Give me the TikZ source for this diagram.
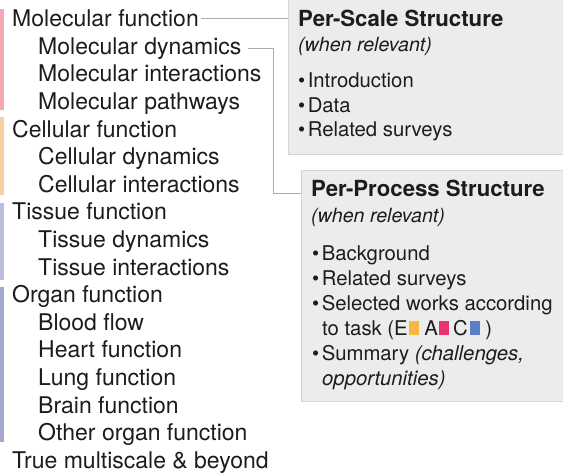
\documentclass[tikz,border=0pt]{standalone}
\usepackage{fontspec}
\setmainfont{TeX Gyre Heros}
\definecolor{ink}{HTML}{1C1C1C}
\definecolor{barred}{HTML}{F4A9B0}
\definecolor{barorange}{HTML}{F6D0A0}
\definecolor{barlav}{HTML}{B9BCDD}
\definecolor{barlavdark}{HTML}{A5A8CE}
\definecolor{panelfill}{HTML}{ECECEC}
\definecolor{panelline}{HTML}{D4D4D4}
\definecolor{connline}{HTML}{ADADAD}
\definecolor{sqyel}{HTML}{F5B942}
\definecolor{sqmag}{HTML}{E8336D}
\definecolor{sqblu}{HTML}{5B7FC4}
\newcommand{\tasksq}[1]{\textcolor{#1}{\rule[0pt]{0.49em}{0.70em}}}
\begin{document}
\begin{tikzpicture}[x=1pt,y=-1pt,
  item/.style={anchor=base west, inner sep=0pt, text=ink, font=\fontsize{23}{27}\selectfont},
  phead/.style={anchor=base west, inner sep=0pt, text=ink, font=\fontsize{22.2}{26}\selectfont\bfseries},
  pnote/.style={anchor=base west, inner sep=0pt, text=ink, font=\fontsize{19.6}{24}\selectfont\itshape},
  pbul/.style={anchor=base west, inner sep=0pt, text=ink, font=\fontsize{20.3}{25}\selectfont},
  panel/.style={draw=panelline, fill=panelfill, line width=0.9pt, inner sep=0pt, anchor=north west},
  conn/.style={draw=connline, line width=0.8pt},
]
\useasboundingbox (0,0) rectangle (563,475);

% colour bars
\fill[barred] (0,9) rectangle (4,110);
\fill[barorange] (0,117) rectangle (4,195);
\fill[barlav] (0,203) rectangle (4,280);
\fill[barlavdark] (0,287) rectangle (4,442);

% panels
\node[panel, minimum width=290pt, minimum height=154.5pt] (box1) at (288,-1) {};
\node[panel, minimum width=280pt, minimum height=231pt] (box2) at (301,170) {};

% left list
\node[item] (mf) at (12,26.7) {Molecular function};
\node[item] (md) at (38,54.3) {Molecular dynamics};
\node[item] (mi) at (38,81.9) {Molecular interactions};
\node[item] (mp) at (38,109.5) {Molecular pathways};
\node[item] (cf) at (12,137.1) {Cellular function};
\node[item] (cd) at (38,164.7) {Cellular dynamics};
\node[item] (ci) at (38,192.3) {Cellular interactions};
\node[item] (tf) at (12,219.9) {Tissue function};
\node[item] (td) at (38,247.5) {Tissue dynamics};
\node[item] (ti) at (38,275.1) {Tissue interactions};
\node[item] (of) at (12,302.7) {Organ function};
\node[item] (bf) at (38,330.3) {Blood flow};
\node[item] (hf) at (38,357.9) {Heart function};
\node[item] (lf) at (38,385.5) {Lung function};
\node[item] (brf) at (38,413.1) {Brain function};
\node[item] (oof) at (38,440.7) {Other organ function};
\node[item] (tm) at (12,468.3) {True multiscale \& beyond};

% panel 1 text
\node[phead] (h1) at (298,26.7) {Per-Scale Structure};
\node[pnote] (n1) at (298,51.7) {(when relevant)};
\node[pbul] (b11) at (298,87.3) {\textbullet\hspace{2.5pt}Introduction};
\node[pbul] (b12) at (298,112) {\textbullet\hspace{2.5pt}Data};
\node[pbul] (b13) at (298,136.7) {\textbullet\hspace{2.5pt}Related surveys};

% panel 2 text
\node[phead] (h2) at (311,196.7) {Per-Process Structure};
\node[pnote] (n2) at (311,222.7) {(when relevant)};
\node[pbul] (b21) at (312,260) {\textbullet\hspace{2.5pt}Background};
\node[pbul] (b22) at (312,285) {\textbullet\hspace{2.5pt}Related surveys};
\node[pbul] (b23) at (312,310) {\textbullet\hspace{2.5pt}Selected works according};
\node[pbul] (b23b) at (322,335) {to task (E\kern1pt\tasksq{sqyel} A\kern1.5pt\tasksq{sqmag}\kern0.5pt\,C\kern2pt\tasksq{sqblu} )};
\node[pbul] (b24) at (312,360) {\textbullet\hspace{2.5pt}Summary \textit{(challenges,}};
\node[pbul] (b24b) at (322,385) {\textit{opportunities)}};

% connectors
\coordinate (bend) at (273,193);
\draw[conn] ([xshift=2pt]mf.east) -- (mf.east -| box1.west);
\draw[conn] ([xshift=6pt]md.east) -- (md.east -| bend) -- (bend) -- (bend -| box2.west);
\end{tikzpicture}
\end{document}
